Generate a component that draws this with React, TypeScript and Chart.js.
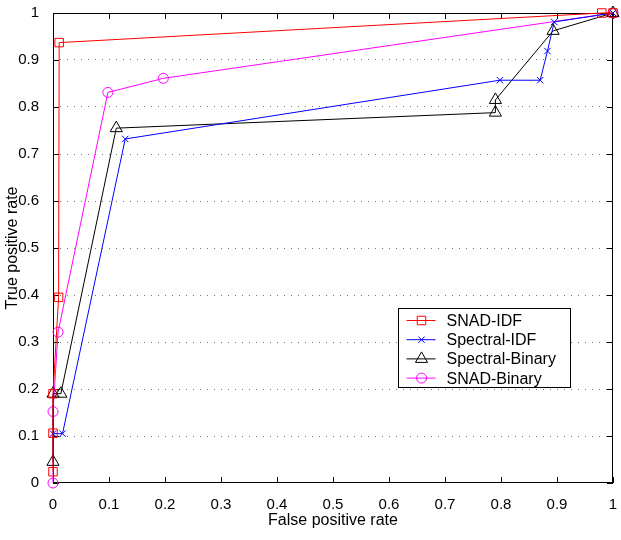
import React, { useEffect, useRef } from "react";
import { Chart, registerables } from "chart.js";

Chart.register(...registerables);

const seriesNames = ["SNAD-IDF", "Spectral-IDF", "Spectral-Binary", "SNAD-Binary"];
const seriesColors = ["#ff0000", "#0000ff", "#000000", "#ff00ff"];
const seriesMarkers = ["rect", "crossRot", "triangle", "circle"];
const markerRadius = [6, 4.5, 7, 5];

const snadIdfX = [0, 0, 0, 0.01, 0.011, 0.98, 1];
const snadIdfY = [0.024, 0.106, 0.19, 0.395, 0.937, 1, 1];

const spectralIdfX = [0, 0.017, 0.129, 0.798, 0.87, 0.883, 0.895, 1];
const spectralIdfY = [0.105, 0.105, 0.732, 0.857, 0.857, 0.919, 0.981, 1];

const spectralBinX = [0, 0, 0.014, 0.113, 0.79, 0.79, 0.893, 1];
const spectralBinY = [0.045, 0.19, 0.19, 0.755, 0.788, 0.815, 0.962, 1];

const snadBinX = [0, 0, 0.009, 0.098, 0.197, 1];
const snadBinY = [0, 0.152, 0.321, 0.831, 0.861, 1];

const xTicks = [0, 0.1, 0.2, 0.3, 0.4, 0.5, 0.6, 0.7, 0.8, 0.9, 1];
const yTicks = [0, 0.1, 0.2, 0.3, 0.4, 0.5, 0.6, 0.7, 0.8, 0.9, 1];

const xTitle = "False positive rate";
const yTitle = "True positive rate";

const FONT = "'Liberation Sans', Arial, Helvetica, sans-serif";

function toPoints(xs: number[], ys: number[]) {
  return xs.map((x, i) => ({ x, y: ys[i] }));
}

function drawMarker(ctx: CanvasRenderingContext2D, style: string, x: number, y: number, r: number) {
  ctx.beginPath();
  if (style === "rect") {
    const s = Math.SQRT1_2 * r;
    ctx.rect(x - s, y - s, 2 * s, 2 * s);
  } else if (style === "crossRot") {
    const o = Math.SQRT1_2 * r;
    ctx.moveTo(x - o, y - o);
    ctx.lineTo(x + o, y + o);
    ctx.moveTo(x - o, y + o);
    ctx.lineTo(x + o, y - o);
  } else if (style === "triangle") {
    ctx.moveTo(x, y - r);
    ctx.lineTo(x + r * Math.sin(Math.PI / 3), y + r * 0.5);
    ctx.lineTo(x - r * Math.sin(Math.PI / 3), y + r * 0.5);
    ctx.closePath();
  } else {
    ctx.arc(x, y, r, 0, Math.PI * 2);
  }
  ctx.stroke();
}

const framePlugin = {
  id: "frame",
  beforeDatasetsDraw(chart: any) {
    const { ctx, chartArea } = chart;
    const { left, right, top, bottom } = chartArea;
    const xs = chart.scales.x;
    const ys = chart.scales.y;
    ctx.save();
    ctx.strokeStyle = "#000";
    ctx.lineWidth = 1;
    ctx.strokeRect(left + 0.5, top + 0.5, right - left - 1, bottom - top - 1);
    const tl = 6;
    ctx.beginPath();
    xTicks.forEach((v) => {
      const px = Math.round(xs.getPixelForValue(v)) + 0.5;
      ctx.moveTo(px, bottom);
      ctx.lineTo(px, bottom - tl);
      ctx.moveTo(px, top);
      ctx.lineTo(px, top + tl);
    });
    yTicks.forEach((v) => {
      const py = Math.round(ys.getPixelForValue(v)) + 0.5;
      ctx.moveTo(left, py);
      ctx.lineTo(left + tl, py);
      ctx.moveTo(right, py);
      ctx.lineTo(right - tl, py);
    });
    ctx.stroke();
    ctx.restore();
  },
  afterDraw(chart: any) {
    const { ctx, chartArea } = chart;
    const bx = chartArea.left + 345.5;
    const by = chartArea.top + 295.5;
    const bw = 172;
    const bh = 79;
    ctx.save();
    ctx.fillStyle = "#fff";
    ctx.fillRect(bx, by, bw, bh);
    ctx.strokeStyle = "#000";
    ctx.lineWidth = 1;
    ctx.strokeRect(bx, by, bw, bh);
    ctx.font = `16px ${FONT}`;
    ctx.textBaseline = "middle";
    ctx.textAlign = "left";
    seriesNames.forEach((name, i) => {
      const y = by + 12 + i * 19.2;
      ctx.strokeStyle = seriesColors[i];
      ctx.beginPath();
      ctx.moveTo(bx + 8, y);
      ctx.lineTo(bx + 37, y);
      ctx.stroke();
      drawMarker(ctx, seriesMarkers[i], bx + 23, y, markerRadius[i]);
      ctx.fillStyle = "#000";
      ctx.fillText(name, bx + 48, y + 1);
    });
    ctx.restore();
  },
};

export default function App() {
  const ref = useRef<HTMLCanvasElement | null>(null);

  useEffect(() => {
    document.body.style.margin = "0";
    const canvas = ref.current;
    if (!canvas) return;
    const allX = [snadIdfX, spectralIdfX, spectralBinX, snadBinX];
    const allY = [snadIdfY, spectralIdfY, spectralBinY, snadBinY];
    const datasets = seriesNames.map((name, i) => ({
      label: name,
      data: toPoints(allX[i], allY[i]),
      borderColor: seriesColors[i],
      backgroundColor: "rgba(0,0,0,0)",
      borderWidth: 1,
      pointStyle: seriesMarkers[i] as any,
      pointRadius: markerRadius[i],
      pointBorderColor: seriesColors[i],
      pointBackgroundColor: "rgba(0,0,0,0)",
      pointBorderWidth: 1,
      showLine: true,
      tension: 0,
      clip: false as any,
    }));
    const chart = new Chart(canvas, {
      type: "scatter",
      data: { datasets },
      plugins: [framePlugin],
      options: {
        animation: false,
        responsive: false,
        maintainAspectRatio: false,
        layout: { padding: { top: 13, right: 8, left: 0, bottom: 0 } },
        plugins: { legend: { display: false }, tooltip: { enabled: false } },
        scales: {
          x: {
            type: "linear",
            min: 0,
            max: 1,
            afterFit: (s: any) => {
              s.height = 57;
              s.paddingLeft = 0;
              s.paddingRight = 0;
              s.paddingTop = 0;
              s.paddingBottom = 0;
            },
            afterBuildTicks: (s: any) => {
              s.ticks = xTicks.map((v) => ({ value: v }));
            },
            ticks: {
              color: "#000",
              font: { family: FONT, size: 15 },
              padding: 13,
              maxRotation: 0,
              callback: (v: any) => String(v),
            },
            grid: { display: false, drawTicks: false },
            border: { display: false },
            title: {
              display: true,
              text: xTitle,
              color: "#000",
              font: { family: FONT, size: 16 },
              padding: { top: 0, bottom: 10 },
            },
          },
          y: {
            type: "linear",
            min: 0,
            max: 1,
            afterFit: (s: any) => {
              s.width = 53;
              s.paddingLeft = 0;
              s.paddingRight = 0;
              s.paddingTop = 0;
              s.paddingBottom = 0;
            },
            afterBuildTicks: (s: any) => {
              s.ticks = yTicks.map((v) => ({ value: v }));
            },
            ticks: {
              color: "#000",
              font: { family: FONT, size: 15 },
              padding: 14,
              callback: (v: any) => String(v),
            },
            grid: {
              drawTicks: false,
              color: (c: any) =>
                c.tick && (c.tick.value === 0 || c.tick.value === 1) ? "rgba(0,0,0,0)" : "#777",
              lineWidth: 1,
            },
            border: { display: false, dash: [1, 6] },
            title: {
              display: true,
              text: yTitle,
              color: "#000",
              font: { family: FONT, size: 16 },
              padding: { top: 3, bottom: 0 },
            },
          },
        },
      },
    });
    return () => chart.destroy();
  }, []);

  return (
    <div style={{ width: 621, height: 540 }}>
      <canvas ref={ref} width={621} height={540} style={{ display: "block", width: 621, height: 540 }} />
    </div>
  );
}
